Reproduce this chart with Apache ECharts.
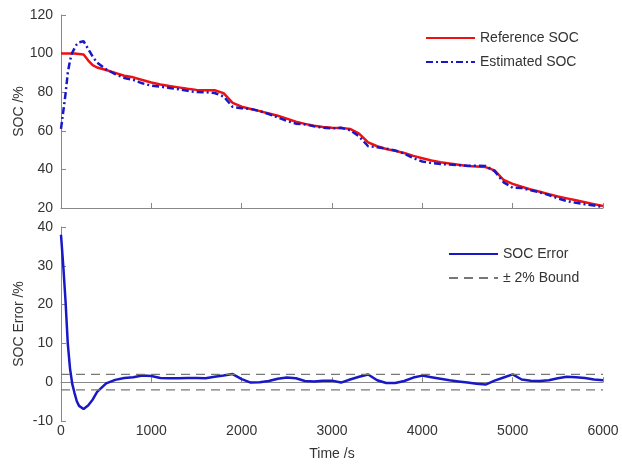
<!DOCTYPE html>
<html>
<head>
<meta charset="utf-8">
<script src="https://cdn.jsdelivr.net/npm/echarts@6/dist/echarts.min.js"></script>
<style>
  html, body { margin: 0; padding: 0; background: #fff; }
  #chart { width: 622px; height: 465px; }
</style>
</head>
<body>
<div id="chart"></div>
<script>
// time axis (s)
const time = [0, 25, 50, 75, 100, 125, 150, 175, 200, 250, 300, 350, 400,
  500, 600, 700, 800, 900, 1000, 1100, 1200, 1300, 1400, 1500, 1600, 1700, 1800, 1900,
  2000, 2100, 2200, 2300, 2400, 2500, 2600, 2700, 2800, 2900, 3000, 3100, 3200, 3300,
  3400, 3500, 3600, 3700, 3800, 3900, 4000, 4100, 4200, 4300, 4400, 4500, 4600, 4700,
  4800, 4900, 5000, 5100, 5200, 5300, 5400, 5500, 5600, 5700, 5800, 5900, 6000]

// reference SOC (%)
const refSoc = [100, 100, 100, 100, 100, 100, 100, 99.9, 99.8, 99.5, 96.5, 94, 92.8,
  91.5, 90, 88.5, 87.7, 86.3, 85, 84, 83.2, 82.5, 81.8, 81.2, 81, 81, 79.5, 74.5,
  72.5, 71.3, 70.2, 69, 67.8, 66.3, 64.7, 63.6, 62.6, 62, 61.6, 61.5, 61, 58.5,
  54, 52, 50.6, 49.6, 48.5, 47, 45.8, 44.6, 43.7, 43, 42.4, 41.8, 41.5, 41.2,
  39.5, 34.5, 32.5, 31, 29.6, 28.4, 27.2, 26, 25, 24, 23, 22, 21]

// estimated SOC (%)
const estSoc = [61, 70, 79, 90, 96.5, 100.5, 102.8, 104.8, 105.9, 106.4, 102.5, 98.5, 95.3,
  91.8, 89.4, 87.4, 86.4, 84.6, 83.4, 82.9, 82.2, 81.5, 80.7, 80.1, 80, 79.6, 77.8, 72.4,
  71.7, 71.4, 70.2, 68.7, 66.9, 65.1, 63.7, 63.3, 62.4, 61.6, 61.2, 61.6, 60.3, 57.1,
  52, 51.5, 50.8, 49.8, 48.2, 45.8, 44.1, 43.3, 42.8, 42.5, 42.2, 41.9, 41.9, 41.8,
  39.1, 33.3, 30.5, 30.3, 29.2, 28.1, 26.7, 25, 23.6, 22.7, 21.9, 21.3, 20.5]

// SOC error (%)
const socErr = [38, 30, 21, 10, 3.5, -0.5, -2.8, -4.9, -6.1, -6.9, -6, -4.5, -2.5,
  -0.3, 0.6, 1.1, 1.3, 1.7, 1.6, 1.1, 1.0, 1.0, 1.1, 1.1, 1.0, 1.4, 1.7, 2.1,
  0.8, -0.1, 0.0, 0.3, 0.9, 1.2, 1.0, 0.3, 0.2, 0.4, 0.4, -0.1, 0.7, 1.4,
  2.0, 0.5, -0.2, -0.2, 0.3, 1.2, 1.7, 1.3, 0.9, 0.5, 0.2, -0.1, -0.4, -0.6,
  0.4, 1.2, 2.0, 0.7, 0.4, 0.3, 0.5, 1.0, 1.4, 1.3, 1.1, 0.7, 0.5]

const bound = 2
const tMax = 6000

const font = 'Liberation Sans, Arial, sans-serif'
const axisColor = '#888'
const textColor = '#333'

function pairs(vals) {
  return time.map((t, i) => [t, vals[i]])
}

function xAxis(gridIndex, showLabel) {
  return {
    type: 'value',
    gridIndex: gridIndex,
    min: 0,
    max: tMax,
    interval: 1000,
    name: showLabel ? 'Time /s' : '',
    nameLocation: 'middle',
    nameGap: 26,
    nameMoveOverlap: false,
    nameTextStyle: { color: textColor, fontSize: 14, fontFamily: font },
    axisLine: { lineStyle: { color: axisColor, width: 1 } },
    axisTick: { inside: true, length: 5, lineStyle: { color: axisColor } },
    axisLabel: {
      show: showLabel,
      color: textColor,
      fontSize: 14,
      fontFamily: font,
      margin: 3,
      formatter: v => String(v)
    },
    splitLine: { show: false }
  }
}

function yAxis(gridIndex, name, min, max, interval) {
  return {
    type: 'value',
    gridIndex: gridIndex,
    min: min,
    max: max,
    interval: interval,
    name: name,
    nameLocation: 'middle',
    nameGap: 35,
    nameMoveOverlap: false,
    nameTextStyle: { color: textColor, fontSize: 14, fontFamily: font },
    axisLine: { show: true, lineStyle: { color: axisColor, width: 1 } },
    axisTick: { show: true, inside: true, length: 5, lineStyle: { color: axisColor } },
    axisLabel: { color: textColor, fontSize: 14, fontFamily: font, margin: 8 },
    splitLine: { show: false }
  }
}

const legendText = { color: textColor, fontSize: 14, fontFamily: font }

const option = {
  animation: false,
  backgroundColor: '#fff',
  grid: [
    { left: 61, right: 19, top: 15, height: 193, outerBoundsMode: 'none' },
    { left: 61, right: 19, top: 227, height: 194, outerBoundsMode: 'none' }
  ],
  legend: [
    {
      data: ['Reference SOC', 'Estimated SOC'],
      orient: 'vertical',
      left: 420,
      top: 26,
      itemWidth: 49,
      itemHeight: 14,
      itemGap: 10,
      itemStyle: { opacity: 0 }, // line only, no marker
      textStyle: legendText
    },
    {
      data: ['SOC Error', '± 2% Bound'],
      orient: 'vertical',
      left: 443,
      top: 242,
      itemWidth: 49,
      itemHeight: 14,
      itemGap: 10,
      itemStyle: { opacity: 0 },
      textStyle: legendText
    }
  ],
  xAxis: [xAxis(0, false), xAxis(1, true)],
  yAxis: [yAxis(0, 'SOC /%', 20, 120, 20), yAxis(1, 'SOC Error /%', -10, 40, 10)],
  series: [
    {
      name: 'Reference SOC',
      type: 'line',
      xAxisIndex: 0,
      yAxisIndex: 0,
      symbol: 'none',
      color: '#ee1111',
      lineStyle: { color: '#ee1111', width: 2.5 },
      data: pairs(refSoc)
    },
    {
      name: 'Estimated SOC',
      type: 'line',
      xAxisIndex: 0,
      yAxisIndex: 0,
      symbol: 'none',
      color: '#1818c8',
      lineStyle: { color: '#1818c8', width: 2.5, type: [7, 3, 2, 3] },
      data: pairs(estSoc)
    },
    {
      name: 'SOC Error',
      type: 'line',
      xAxisIndex: 1,
      yAxisIndex: 1,
      symbol: 'none',
      color: '#1818c8',
      lineStyle: { color: '#1818c8', width: 2.5 },
      data: pairs(socErr)
    },
    {
      name: '± 2% Bound',
      type: 'line',
      xAxisIndex: 1,
      yAxisIndex: 1,
      symbol: 'none',
      color: '#777',
      lineStyle: { color: '#777', width: 1.2, type: [9, 6] },
      data: [[0, bound], [tMax, bound]]
    },
    {
      name: '± 2% Bound',
      type: 'line',
      xAxisIndex: 1,
      yAxisIndex: 1,
      symbol: 'none',
      color: '#777',
      lineStyle: { color: '#777', width: 1.2, type: [9, 6] },
      data: [[0, -bound], [tMax, -bound]]
    }
  ]
}

const chart = echarts.init(document.getElementById('chart'))
chart.setOption(option)
</script>
</body>
</html>
